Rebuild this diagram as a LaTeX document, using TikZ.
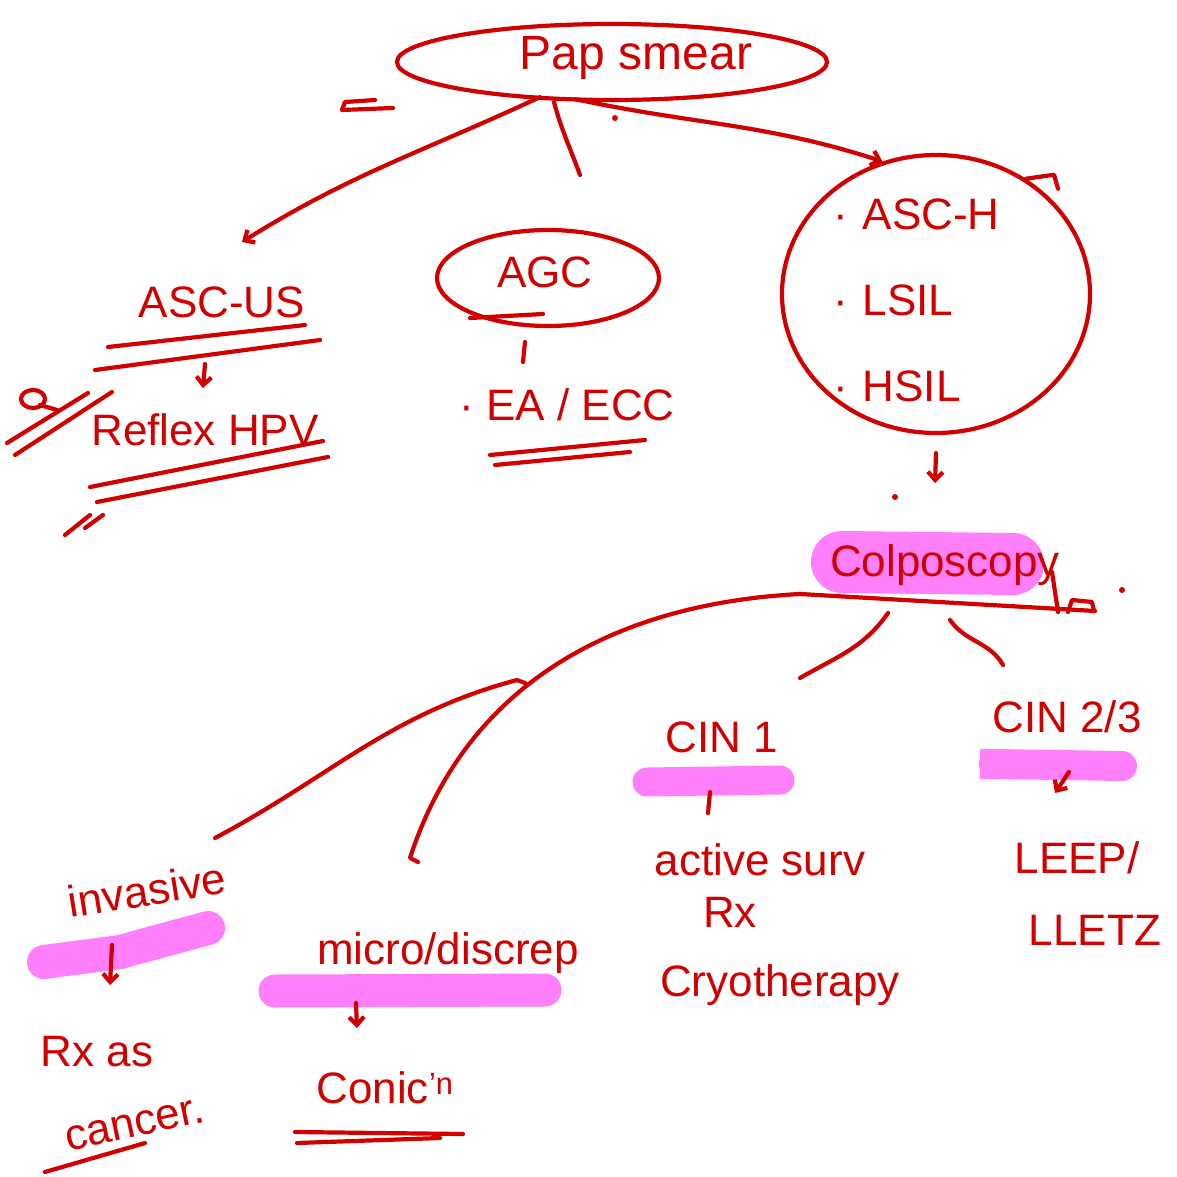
\documentclass[tikz,border=0pt]{standalone}
\usepackage{fontspec}
\setmainfont{Liberation Sans}
\usetikzlibrary{calc,arrows.meta,shapes.geometric}
\definecolor{ink}{RGB}{208,0,0}
\definecolor{hl}{RGB}{255,128,250}
\tikzset{
  hw/.style={text=ink, font=\fontsize{44}{48}\selectfont, inner sep=0pt},
  conn/.style={draw=ink, line width=4.2pt, line cap=round, line join=round},
  arr/.style={-{Straight Barb[length=8pt,width=15pt]}},
  hlt/.style={draw=hl, line width=#1, line cap=round},
  bubble/.style={ellipse, draw=ink, line width=4.2pt, inner sep=0pt},
}
\begin{document}
\begin{tikzpicture}[x=1pt,y=-1pt]
\fill[white] (0,0) rectangle (1177,1177);
\useasboundingbox (0,0) rectangle (1177,1177);

% highlighter strokes
\draw[hlt=62pt] (842,562) -- (1013,564);
\draw[hlt=29pt] (647,782) -- (780,780);
\draw[hlt=30pt] (994,764) -- (1122,766);
\fill[hl] (980,749) rectangle (996,779);
\draw[hlt=34pt] (44,962) -- (120,952) -- (208,928);
\draw[hlt=33pt] (275,991) -- (545,990);

% nodes
\node[bubble, minimum width=430pt, minimum height=76pt] (pap) at (612,62) {};
\node[hw, font=\fontsize{48}{52}\selectfont] (paptxt) at (636,58) {Pap smear};
\node[hw] (ascus) at (222,302) {ASC-US};
\node[hw] (reflex) at (205,430) {Reflex HPV};
\node[bubble, minimum width=222pt, minimum height=96pt] (agc) at (548,278) {};
\node[hw] (agctxt) at (545,272) {AGC};
\node[hw] (eaecc) at (567,405) {· EA / ECC};
\node[bubble, minimum width=308pt, minimum height=278pt] (asch) at (936,294) {};
\node[hw, align=left, text width=205pt, font=\fontsize{44}{86}\selectfont] (aschtxt) at (936,300) {· ASC-H\\· LSIL\\· HSIL};
\node[hw] (colpo) at (945,565) {Colposcopy};
\node[hw] (cin1) at (722,737) {CIN 1};
\node[hw] (surv) at (760,860) {active surv};
\node[hw] (rx) at (730,912) {Rx};
\node[hw] (cryo) at (780,985) {Cryotherapy};
\node[hw] (cin23) at (1067,717) {CIN 2/3};
\node[hw] (leep) at (1077,858) {LEEP/};
\node[hw] (lletz) at (1095,930) {LLETZ};
\node[hw, rotate=9] (inv) at (147,890) {invasive};
\node[hw] (rxas) at (97,1052) {Rx as};
\node[hw, rotate=12] (cancer) at (135,1125) {cancer.};
\node[hw] (micro) at (448,953) {micro/discrep};
\node[hw] (conic) at (385,1088) {Conic\textsuperscript{'n}};
\coordinate (c1) at (525,683);

% connectors
\draw[conn,arr] ($(pap.south)+(-72,-5)$) to[out=205,in=32] ($(ascus)+(20,-60)$);
\draw[conn] ($(pap.south)+(-58,0)$) to[out=-75,in=110] ($(agc)+(32,-103)$);
\draw[conn,arr] ($(pap.south)+(-37,-3)$) to[out=-12,in=162] (asch.112);
\draw[conn,arr] ($(asch.south)+(0,18)$) -- ($(colpo)+(-10,-82)$);
\draw[conn,arr] ($(ascus)+(-17,62)$) -- ($(reflex)+(-2,-42)$);
\draw[conn] ($(agc)+(-23,64)$) -- ($(eaecc)+(-44,-43)$);
\draw[conn] ($(colpo)+(-145,29)$) -- ($(colpo)+(150,46)$);
\draw[conn] ($(colpo)+(-145,29)$) to[out=183,in=72] ($(micro)+(-38,-95)$) -- ++(8,4);
\draw[conn] (c1) -- ++(-8,-3) to[out=195,in=28] ($(inv)+(68,-52)$);
\draw[conn] ($(colpo)+(-57,48)$) to[out=-125,in=30] ($(cin1)+(78,-59)$);
\draw[conn] ($(colpo)+(5,55)$) to[out=-55,in=120] ($(cin23)+(-64,-52)$);
\draw[conn] ($(cin1)+(-12,55)$) -- ($(surv)+(-52,-47)$);
\draw[conn,arr] ($(cin23)+(2,55)$) -- ($(leep)+(-22,-65)$);
\draw[conn,arr] ($(inv)+(-35,55)$) -- ($(rxas)+(13,-67)$);
\draw[conn,arr] ($(micro)+(-92,50)$) -- ($(conic)+(-28,-60)$);

% underlines and stray marks
\draw[conn] (108,347) -- (305,325);
\draw[conn] (95,370) -- (320,340);
\draw[conn] (90,487) -- (323,441);
\draw[conn] (97,502) -- (328,457);
\draw[conn] (490,455) -- (645,440);
\draw[conn] (495,465) -- (630,452);
\draw[conn] (295,1132) -- (463,1134);
\draw[conn] (297,1143) -- (440,1138);
\draw[conn] (45,1172) -- (145,1143);
\draw[conn] (470,318) -- (543,314);
\draw[conn] (375,100) -- (345,102) -- (342,110) -- (393,108);
\draw[conn] (33,399) ellipse (12pt and 9pt);
\draw[conn] (40,405) -- (57,410);
\draw[conn] (7,443) -- (88,393);
\draw[conn] (15,455) -- (112,392);
\draw[conn] (65,535) -- (90,515);
\draw[conn] (85,528) -- (103,515);
\draw[conn] (asch.52) -- ++(28,-4) -- ++(4,14);
\draw[conn] (1052,572) -- (1058,612);
\draw[conn] (1068,612) -- (1072,600) -- (1092,602) -- (1094,611);
\fill[ink] (615,118) circle (3pt);
\fill[ink] (895,497) circle (3pt);
\fill[ink] (1122,590) circle (3pt);
\end{tikzpicture}
\end{document}
